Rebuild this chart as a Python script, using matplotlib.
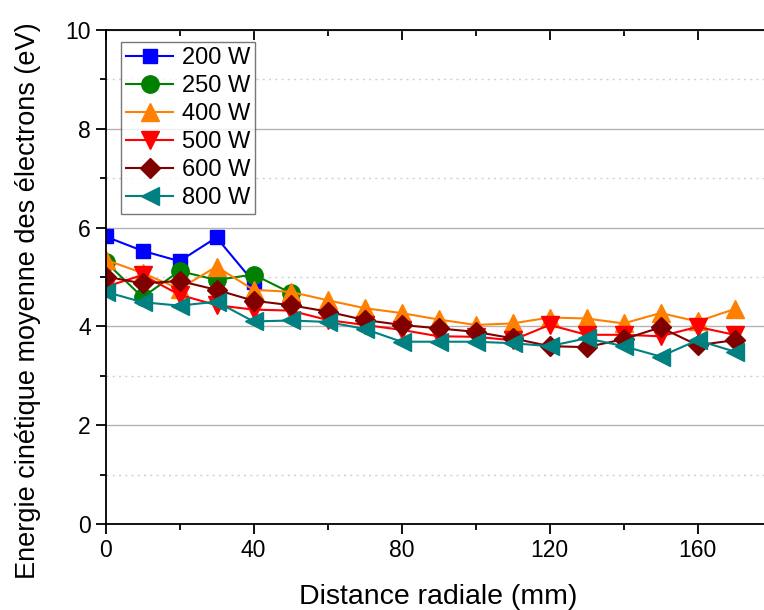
import matplotlib
matplotlib.use("Agg")
from matplotlib import pyplot as plt
from matplotlib.ticker import MultipleLocator

plt.rcParams['font.family'] = ['Liberation Sans', 'DejaVu Sans']

# distance radiale (mm)
x_short = [0, 10, 20, 30, 40]
x_250 = [0, 10, 20, 30, 40, 50]
x_full = [0, 10, 20, 30, 40, 50, 60, 70, 80, 90, 100, 110, 120, 130, 140, 150, 160, 170]

# energie moyenne (eV)
e_200 = [5.82, 5.53, 5.32, 5.80, 4.90]
e_250 = [5.31, 4.59, 5.12, 4.94, 5.05, 4.68]
e_400 = [5.35, 5.08, 4.76, 5.21, 4.74, 4.70, 4.53, 4.37, 4.27, 4.14, 4.03, 4.06, 4.18, 4.16, 4.06, 4.27, 4.10, 4.35]
e_500 = [4.80, 5.04, 4.64, 4.43, 4.34, 4.32, 4.13, 4.03, 3.93, 3.80, 3.79, 3.72, 4.03, 3.83, 3.83, 3.80, 3.99, 3.83]
e_600 = [5.01, 4.87, 4.92, 4.74, 4.52, 4.43, 4.30, 4.13, 4.03, 3.96, 3.89, 3.76, 3.60, 3.58, 3.74, 3.98, 3.62, 3.72]
e_800 = [4.70, 4.49, 4.42, 4.50, 4.10, 4.12, 4.09, 3.95, 3.69, 3.69, 3.69, 3.66, 3.60, 3.76, 3.60, 3.39, 3.72, 3.49]

fig = plt.figure(figsize=(7.64, 6.10), dpi=100)
ax = fig.add_axes([105.5 / 764, 86 / 610, 666 / 764, 494 / 610])

ax.plot(x_short, e_200, marker='s', color='#0000FF', ms=10.5, lw=1.5, label='200 W')
ax.plot(x_250, e_250, marker='o', color='#008000', ms=12.5, lw=1.5, label='250 W')
ax.plot(x_full, e_400, marker='^', color='#FF8000', ms=13.5, lw=1.5, label='400 W')
ax.plot(x_full, e_500, marker='v', color='#FF0000', ms=13.5, lw=1.5, label='500 W')
ax.plot(x_full, e_600, marker='D', color='#800000', ms=10.5, lw=1.5, label='600 W')
ax.plot(x_full, e_800, marker='<', color='#008080', ms=13.5, lw=1.5, label='800 W')

ax.set_xlim(0, 180)
ax.set_ylim(0, 10)
ax.xaxis.set_major_locator(MultipleLocator(40))
ax.xaxis.set_minor_locator(MultipleLocator(20))
ax.yaxis.set_major_locator(MultipleLocator(2))
ax.yaxis.set_minor_locator(MultipleLocator(1))

ax.grid(axis='y', which='major', color='#b4b4b4', lw=1.0, ls='-')
ax.grid(axis='y', which='minor', color='#d0d0d0', lw=1.0, ls=(0, (1.5, 3)))
ax.set_axisbelow(True)

ax.tick_params(axis='both', which='major', direction='out', length=7, width=1.3, labelsize=16.5)
ax.tick_params(axis='both', which='minor', direction='out', length=4, width=1.3)
ax.tick_params(axis='x', top=True, which='both')
ax.spines['right'].set_visible(False)
for s in ['left', 'bottom', 'top']:
    ax.spines[s].set_linewidth(1.3)

# top ticks point inward
for t in ax.xaxis.get_major_ticks() + ax.xaxis.get_minor_ticks():
    t.tick2line.set_marker(3)

ax.set_xlabel('Distance radiale (mm)', fontsize=20.5, labelpad=16)
ax.set_ylabel('Energie cinétique moyenne des électrons (eV)', fontsize=19.5)
ax.yaxis.set_label_coords(-0.097, 0.453)

leg = ax.legend(loc='upper left', bbox_to_anchor=(0.016, 0.985), fontsize=17, frameon=True,
                fancybox=False, edgecolor='#555555', handlelength=2.0, borderpad=0.22,
                labelspacing=0.25, handletextpad=0.35, borderaxespad=0.2)
leg.get_frame().set_linewidth(1.0)

fig.savefig('out.png', dpi=100)
